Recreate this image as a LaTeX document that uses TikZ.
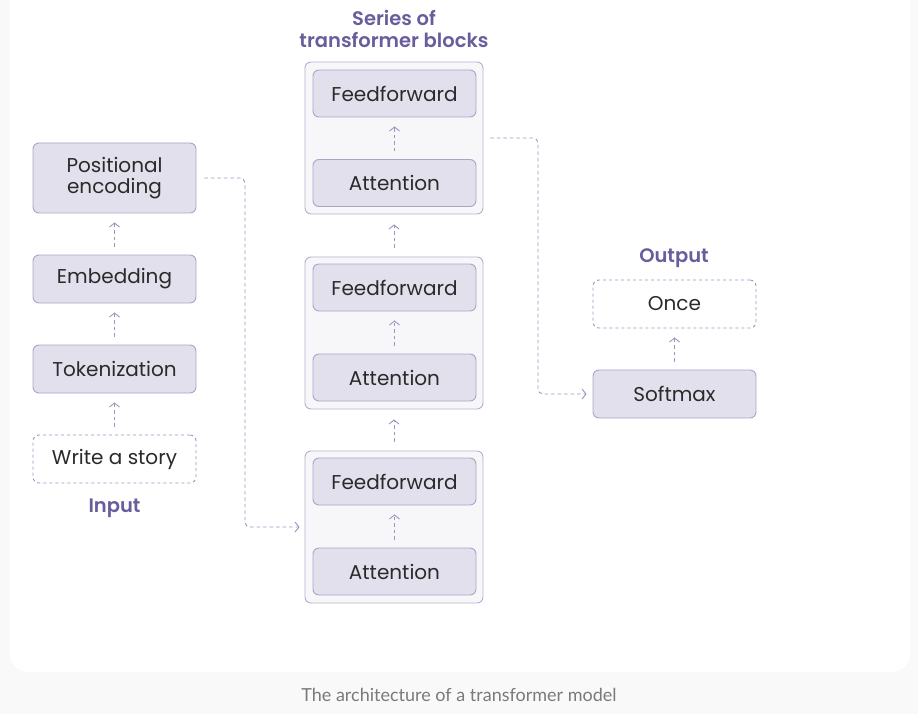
\documentclass[tikz,border=0pt]{standalone}
\usepackage{fontspec}
\setmainfont{Poppins}
\newfontfamily\headfont{Poppins SemiBold}
\newfontfamily\capfont{Lato}
\usetikzlibrary{arrows.meta}
\definecolor{bgout}{HTML}{F9F9F9}
\definecolor{boxfill}{HTML}{E1E0EC}
\definecolor{boxline}{HTML}{A9A5C7}
\definecolor{contfill}{HTML}{F7F7FA}
\definecolor{contline}{HTML}{B4B1CE}
\definecolor{txt}{HTML}{2A2A2A}
\definecolor{ttl}{HTML}{6A5D9C}
\definecolor{conncol}{HTML}{9C96C2}
\definecolor{captxt}{HTML}{7A7A7A}
\tikzset{
  x=1pt,y=-1pt,
  stepbox/.style={draw=boxline, fill=boxfill, rounded corners=6pt, line width=0.9pt,
    minimum width=163pt, minimum height=48pt, inner sep=0pt, align=center,
    text=txt, font=\fontsize{20}{21}\selectfont},
  dashbox/.style={draw=conncol, dash pattern=on 3pt off 3pt, fill=white, rounded corners=6pt, line width=0.9pt,
    minimum width=163pt, minimum height=48pt, inner sep=0pt, align=center,
    text=txt, font=\fontsize{20}{21}\selectfont},
  container/.style={draw=contline, fill=contfill, rounded corners=6pt, line width=0.9pt,
    minimum width=178pt, minimum height=152pt, inner sep=0pt},
  heading/.style={text=ttl, font=\headfont\fontsize{19.5}{22}\selectfont, align=center, inner sep=0pt},
  conn/.style={draw=conncol, line width=0.9pt, dash pattern=on 3.5pt off 3pt,
    -{Straight Barb[length=4pt,width=10pt,line width=0.9pt]}, rounded corners=5pt},
}
\begin{document}
\begin{tikzpicture}
\useasboundingbox (0,0) rectangle (918,714);
\fill[bgout] (0,0) rectangle (918,714);
\fill[white, rounded corners=18pt] (10,-30) rectangle (910,672);

% left column
\node[stepbox, minimum height=70pt] (pe) at (114.5,178) {Positional\\encoding};
\node[stepbox] (emb) at (114.5,279) {Embedding};
\node[stepbox] (tok) at (114.5,369) {Tokenization};
\node[dashbox] (inp) at (114.5,459) {Write a story};
\node[heading] (inlbl) at (114.5,508) {Input};

% containers
\node[container] (b1) at (394,138) {};
\node[container] (b2) at (394,333) {};
\node[container] (b3) at (394,527) {};
\node[stepbox, minimum height=47pt] (ff1) at (394.5,93.5) {Feedforward};
\node[stepbox, minimum height=47pt] (at1) at (394.5,183) {Attention};
\node[stepbox, minimum height=47pt] (ff2) at (394.5,287.5) {Feedforward};
\node[stepbox, minimum height=47pt] (at2) at (394.5,377.5) {Attention};
\node[stepbox, minimum height=47pt] (ff3) at (394.5,481.5) {Feedforward};
\node[stepbox, minimum height=47pt] (at3) at (394.5,571.5) {Attention};
\node[heading] (title) at (394,29) {Series of\\transformer blocks};

% output
\node[heading] (outlbl) at (674,258) {Output};
\node[dashbox] (once) at (674.5,304) {Once};
\node[stepbox] (soft) at (674.5,394) {Softmax};

% vertical arrows
\draw[conn, shorten <=8pt, shorten >=9pt] (inp.north) -- (tok.south);
\draw[conn, shorten <=8pt, shorten >=9pt] (tok.north) -- (emb.south);
\draw[conn, shorten <=8pt, shorten >=9pt] (emb.north) -- (pe.south);
\draw[conn, shorten <=8pt, shorten >=9pt] (at1.north) -- (ff1.south);
\draw[conn, shorten <=8pt, shorten >=9pt] (at2.north) -- (ff2.south);
\draw[conn, shorten <=8pt, shorten >=9pt] (at3.north) -- (ff3.south);
\draw[conn, shorten <=9pt, shorten >=10pt] (b3.north) -- (b2.south);
\draw[conn, shorten <=9pt, shorten >=10pt] (b2.north) -- (b1.south);
\draw[conn, shorten <=8pt, shorten >=9pt] (soft.north) -- (once.south);

% long connectors
\coordinate (c1) at (245,0);
\coordinate (c2) at (538,0);
\draw[conn, shorten <=8pt, shorten >=5pt] (pe.east) -| (c1 |- b3.west) -- (b3.west);
\draw[conn, shorten <=7pt, shorten >=6pt] (b1.east) -| (c2 |- soft.west) -- (soft.west);

% caption
\node[text=captxt, font=\capfont\fontsize{18}{20}\selectfont, inner sep=0pt] (cap) at (459,695) {The architecture of a transformer model};
\end{tikzpicture}
\end{document}
